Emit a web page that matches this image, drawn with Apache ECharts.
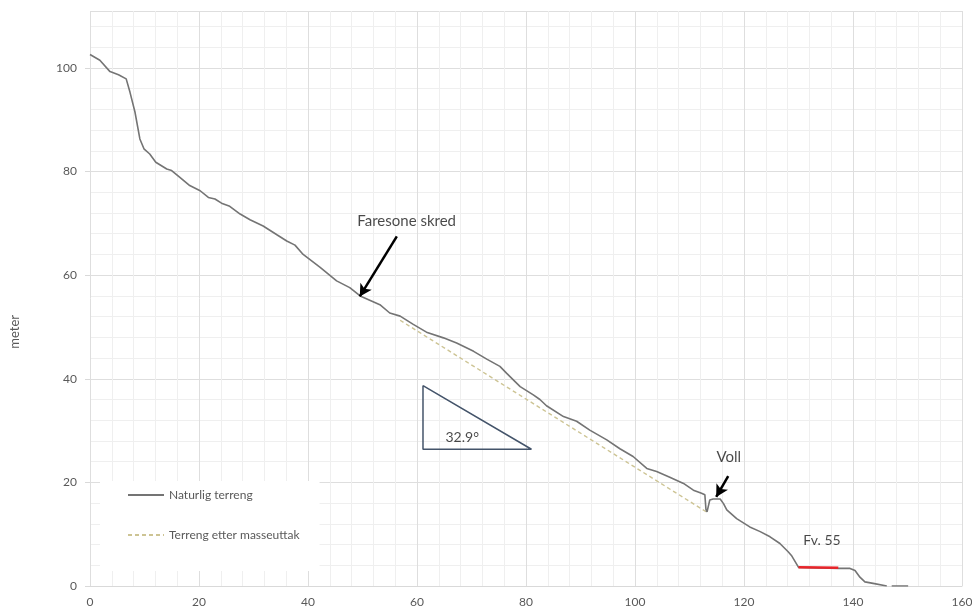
<!DOCTYPE html>
<html>
<head>
<meta charset="utf-8">
<script src="https://cdn.jsdelivr.net/npm/echarts@6/dist/echarts.min.js"></script>
<style>html,body{margin:0;padding:0;background:#fff;}#c{width:972px;height:609px;}</style>
</head>
<body>
<div id="c"></div>
<script>
// Naturlig terreng (profile)
var terrainX = [0,1.81,3.67,5.23,6.64,7.34,8.25,9.15,9.9,10.96,12.07,14.08,14.98,16.49,18.3,20.21,21.72,22.93,24.13,25.64,27.55,29.36,31.77,34.29,36.1,37.61,39.11,42.23,45.25,47.66,49.57,53.19,55.0,56.91,59.32,61.74,64.85,67.27,70.39,72.8,75.21,76.42,78.93,81.34,82.55,83.76,86.88,89.29,91.7,94.82,97.23,99.65,102.16,103.97,106.38,108.9,110.71,112.21,112.82,113.02,113.22,113.72,114.33,115.63,116.24,116.84,118.65,121.06,122.97,124.78,126.59,128.1,128.7,130.01,137.35,139.46,140.37,141.27,142.18,143.69,146.2,146.7,147.1,150.12];
var terrainY = [102.6,101.5,99.3,98.7,97.9,95.3,91.5,86.3,84.4,83.4,81.8,80.5,80.2,78.9,77.3,76.3,75.0,74.7,73.9,73.3,71.8,70.7,69.5,67.8,66.6,65.8,64.0,61.5,58.9,57.6,56.0,54.3,52.7,52.1,50.5,49.0,47.9,46.9,45.3,43.8,42.4,41.1,38.5,36.9,36.0,34.8,32.7,31.8,30.1,28.2,26.5,25.0,22.7,22.1,21.0,19.8,18.5,17.9,17.6,14.8,14.3,16.6,16.8,16.8,15.9,14.7,13.0,11.4,10.5,9.5,8.2,6.6,5.9,3.6,3.4,3.4,3.0,1.7,0.8,0.5,0.0,null,0.0,0.0];
// Terreng etter masseuttak
var cutX = [56.9,113.1];
var cutY = [51.3,14.3];
// Fv. 55 road segment
var roadX = [130.0,137.3];
var roadY = [3.6,3.5];
// Angle triangle
var triX = [61.1,61.1,81.0,61.1];
var triY = [38.7,26.4,26.4,38.7];
// Annotation labels
var labelNames = ['Faresone skred','Voll','Fv. 55','32.9°'];
var labelSizes = [15,15,14,14];
var labelX = [58.1,117.2,134.3,68.3];
var labelY = [70.4,24.9,8.8,28.6];
// Arrows [fromX, fromY, toX, toY]
var arrow1 = [56.3,67.5,49.5,55.9];
var arrow2 = [117.1,21.2,114.9,17.2];
// Axis ticks
var xTicks = [0,160,20];
var yTicks = [0,111,20];

function zip(a,b){return a.map(function(v,i){return [v,b[i]];});}

var chart = echarts.init(document.getElementById('c'));
var font = 'Lato';
chart.setOption({
  animation:false,
  backgroundColor:'#fff',
  grid:{left:90,right:10,top:11,bottom:23,outerBoundsMode:'none',containLabel:false},
  graphic:[{type:'text',left:8,top:315,rotation:Math.PI/2,style:{text:'meter',fill:'#595959',font:'13px Lato'}}],
  xAxis:{type:'value',min:xTicks[0],max:xTicks[1],interval:xTicks[2],
    axisLine:{show:true,lineStyle:{color:'#d9d9d9'}},axisTick:{show:false},
    axisLabel:{color:'#595959',fontSize:12,fontFamily:font,margin:10},
    splitLine:{show:true,lineStyle:{color:'#dedede'}},
    minorTick:{show:false,splitNumber:5},
    minorSplitLine:{show:true,lineStyle:{color:'#efefef'}}},
  yAxis:{type:'value',min:yTicks[0],max:yTicks[1],interval:yTicks[2],
    axisLine:{show:false},axisTick:{show:true,length:5,lineStyle:{color:'#d9d9d9'}},
    axisLabel:{color:'#595959',fontSize:12,fontFamily:font,margin:13,showMaxLabel:false},
    splitLine:{show:true,lineStyle:{color:'#dedede'}},
    minorTick:{show:false,splitNumber:5},
    minorSplitLine:{show:true,lineStyle:{color:'#efefef'}}},
  legend:{data:['Naturlig terreng','Terreng etter masseuttak'],orient:'vertical',left:100,top:481,
    backgroundColor:'#fff',padding:[8,20,30,27],itemWidth:36,itemHeight:14,itemGap:28,
    itemStyle:{opacity:0},
    textStyle:{color:'#595959',fontSize:12,fontFamily:font}},
  series:[
    {name:'Naturlig terreng',type:'line',data:zip(terrainX,terrainY),symbol:'none',connectNulls:false,
      lineStyle:{color:'#747474',width:1.6},itemStyle:{color:'#747474'},z:3},
    {name:'Terreng etter masseuttak',type:'line',data:zip(cutX,cutY),symbol:'none',
      lineStyle:{color:'#cdc494',width:1.4,type:[4,3]},itemStyle:{color:'#cdc494'},z:2},
    {name:'Fv. 55',type:'line',data:zip(roadX,roadY),symbol:'none',
      lineStyle:{color:'#e8242a',width:2.5},z:4},
    {name:'vinkel',type:'line',data:zip(triX,triY),symbol:'none',
      lineStyle:{color:'#44546a',width:1.5},z:4},
    {name:'tekst',type:'scatter',symbolSize:0,z:5,
      data:labelNames.map(function(n,i){return {name:n,value:[labelX[i],labelY[i]],label:{fontSize:labelSizes[i]}};}),
      label:{show:true,position:'inside',formatter:'{b}',color:'#1a1a1a',fontFamily:font},
      markLine:{silent:true,symbol:['none','arrow'],symbolSize:[10,12],label:{show:false},
        lineStyle:{color:'#000',width:2.5,type:'solid'},
        data:[[{coord:[arrow1[0],arrow1[1]]},{coord:[arrow1[2],arrow1[3]]}],
              [{coord:[arrow2[0],arrow2[1]]},{coord:[arrow2[2],arrow2[3]]}]]}}
  ]
});
</script>
</body>
</html>
